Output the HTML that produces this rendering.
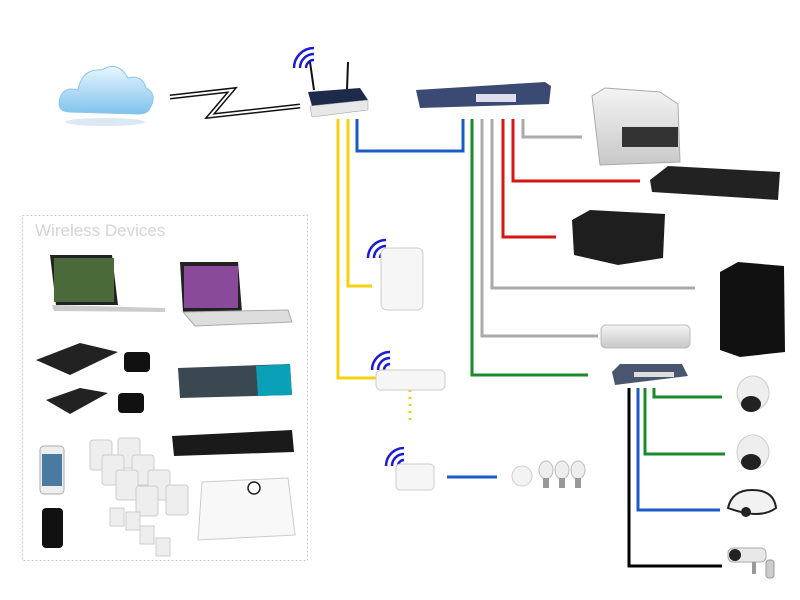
<!DOCTYPE html>
<html><head><style>body{margin:0;background:#fff}svg{display:block}</style></head><body>
<svg width="800" height="600" viewBox="0 0 800 600" xmlns="http://www.w3.org/2000/svg">
<defs>
<linearGradient id="cl" x1="0" y1="0" x2="0" y2="1"><stop offset="0" stop-color="#e8f6ff"/><stop offset="1" stop-color="#7fc2ec"/></linearGradient>
<linearGradient id="sv" x1="0" y1="0" x2="0" y2="1"><stop offset="0" stop-color="#f4f4f4"/><stop offset="1" stop-color="#c8c8c8"/></linearGradient>
</defs>
<ellipse cx="105" cy="122" rx="40" ry="4" fill="#dde9f2"/>
<g fill="url(#cl)" stroke="#8cc6ea" stroke-width="1">
<path d="M70 112 Q56 112 60 98 Q64 86 78 90 Q82 68 102 70 Q118 60 128 78 Q142 74 146 88 Q158 94 150 108 Q148 114 138 114 Z"/>
</g>
<polyline points="170,97 232,90 210,116 300,106" fill="none" stroke="#111" stroke-width="5"/>
<polyline points="170,97 232,90 210,116 300,106" fill="none" stroke="#fff" stroke-width="2"/>
<g fill="none" stroke="#1a1ad8" stroke-width="2.5">
<path d="M306 68 a8 8 0 0 1 8 -8"/><path d="M300 68 a14 14 0 0 1 14 -14"/><path d="M294 68 a20 20 0 0 1 20 -20"/>
<path d="M380 258 a6 6 0 0 1 6 -6"/><path d="M374 258 a12 12 0 0 1 12 -12"/><path d="M368 258 a18 18 0 0 1 18 -18"/>
<path d="M384 370 a6 6 0 0 1 6 -6"/><path d="M378 370 a12 12 0 0 1 12 -12"/><path d="M372 370 a18 18 0 0 1 18 -18"/>
<path d="M398 466 a6 6 0 0 1 6 -6"/><path d="M392 466 a12 12 0 0 1 12 -12"/><path d="M386 466 a18 18 0 0 1 18 -18"/>
</g>
<line x1="314" y1="90" x2="310" y2="62" stroke="#111" stroke-width="2"/>
<line x1="347" y1="90" x2="348" y2="62" stroke="#111" stroke-width="2"/>
<path d="M308 92 L360 88 L368 100 L312 106 Z" fill="#1e2a4a"/>
<path d="M310 106 L368 100 L368 110 L312 117 Z" fill="#e8e8e8" stroke="#999" stroke-width="0.5"/>
<path d="M416 90 L545 82 L551 86 L549 104 L420 108 Z" fill="#3a4a72"/>
<rect x="476" y="94" width="40" height="8" fill="#dde"/>
<g fill="none" stroke-width="3">
<polyline points="338,119 338,378 378,378" stroke="#f7d012"/>
<polyline points="348,119 348,286 372,286" stroke="#f7d012"/>
<polyline points="357,119 357,151 463,151 463,119" stroke="#1a5bc8"/>
<polyline points="472,119 472,375 588,375" stroke="#1a8a2a"/>
<polyline points="482,119 482,336 598,336" stroke="#aaa"/>
<polyline points="492,119 492,288 695,288" stroke="#aaa"/>
<polyline points="503,119 503,237 556,237" stroke="#d81414"/>
<polyline points="513,119 513,181 640,181" stroke="#d81414"/>
<polyline points="523,119 523,137 582,137" stroke="#aaa"/>
<polyline points="629,388 629,566 722,566" stroke="#000"/>
<polyline points="638,388 638,510 720,510" stroke="#1a5bc8"/>
<polyline points="645,388 645,454 725,454" stroke="#1a8a2a"/>
<polyline points="654,388 654,397 722,397" stroke="#1a8a2a"/>
<line x1="447" y1="477" x2="497" y2="477" stroke="#1a5bc8"/>
<line x1="410" y1="390" x2="410" y2="422" stroke="#f7d012" stroke-dasharray="2 5"/>
</g>
<path d="M592 96 L605 88 L660 92 L678 104 L680 162 L600 165 Z" fill="url(#sv)" stroke="#aaa"/>
<rect x="622" y="127" width="56" height="20" fill="#333"/>
<path d="M650 180 L668 166 L780 172 L778 200 L652 192 Z" fill="#222"/>
<path d="M572 220 L590 210 L665 214 L663 258 L618 265 L574 255 Z" fill="#1e1e1e"/>
<path d="M720 272 L738 262 L784 266 L785 352 L740 357 L720 350 Z" fill="#111"/>
<rect x="601" y="325" width="89" height="23" rx="5" fill="url(#sv)" stroke="#bbb"/>
<path d="M612 372 L620 364 L682 364 L688 376 L615 385 Z" fill="#4a5570"/>
<rect x="634" y="372" width="40" height="5" fill="#ddd"/>
<ellipse cx="753" cy="393" rx="16" ry="17" fill="#eee" stroke="#ccc"/><ellipse cx="751" cy="404" rx="10" ry="8" fill="#222"/>
<ellipse cx="753" cy="452" rx="16" ry="17" fill="#eee" stroke="#ccc"/><ellipse cx="751" cy="462" rx="10" ry="8" fill="#222"/>
<path d="M728 508 Q732 490 752 490 Q774 490 776 508 Q760 520 728 508 Z" fill="#f2f2f2" stroke="#222" stroke-width="2"/><circle cx="746" cy="512" r="5" fill="#222"/>
<rect x="728" y="548" width="38" height="14" rx="5" fill="#e8e8e8" stroke="#aaa"/><circle cx="735" cy="555" r="6" fill="#222"/>
<rect x="752" y="562" width="4" height="12" fill="#999"/><rect x="766" y="560" width="8" height="18" rx="3" fill="#ccc" stroke="#999"/>
<rect x="381" y="248" width="42" height="62" rx="6" fill="#f6f6f6" stroke="#ccc"/>
<rect x="376" y="370" width="69" height="20" rx="5" fill="#f6f6f6" stroke="#ccc"/>
<rect x="396" y="464" width="38" height="26" rx="4" fill="#f6f6f6" stroke="#ccc"/>
<circle cx="522" cy="476" r="10" fill="#f3f3f3" stroke="#ccc"/>
<g fill="#eee" stroke="#bbb"><ellipse cx="546" cy="470" rx="7" ry="9"/><ellipse cx="562" cy="470" rx="7" ry="9"/><ellipse cx="578" cy="470" rx="7" ry="9"/></g>
<g fill="#999"><rect x="543" y="478" width="6" height="10"/><rect x="559" y="478" width="6" height="10"/><rect x="575" y="478" width="6" height="10"/></g>
<rect x="22.5" y="215.5" width="285" height="345" fill="none" stroke="#c8c8c8" stroke-dasharray="2 2"/>
<text x="35" y="236" font-family="Liberation Sans, sans-serif" font-size="17" fill="#d4d4d4">Wireless Devices</text>
<path d="M50 255 L112 255 L118 305 L56 305 Z" fill="#222"/><rect x="54" y="258" width="60" height="44" fill="#4a6a3a"/>
<path d="M52 305 L165 308 L165 312 L54 311 Z" fill="#ccc"/>
<path d="M180 262 L238 262 L242 312 L183 312 Z" fill="#222"/><rect x="184" y="266" width="54" height="42" fill="#8a4a9a"/>
<path d="M183 312 L288 310 L292 322 L195 326 Z" fill="#ddd" stroke="#aaa"/>
<path d="M36 360 L80 343 L118 352 L70 375 Z" fill="#222"/>
<path d="M46 400 L80 388 L108 393 L70 414 Z" fill="#222"/>
<rect x="124" y="352" width="26" height="20" rx="4" fill="#111"/>
<rect x="118" y="393" width="26" height="20" rx="4" fill="#111"/>
<path d="M178 368 L290 364 L292 395 L180 398 Z" fill="#3a4852"/><path d="M256 366 L290 364 L292 395 L258 396 Z" fill="#0aa0b8"/>
<path d="M172 436 L292 430 L294 452 L174 456 Z" fill="#1a1a1a"/>
<rect x="40" y="446" width="24" height="48" rx="4" fill="#eee" stroke="#aaa"/><rect x="42" y="454" width="20" height="32" fill="#4a7aa0"/>
<rect x="42" y="508" width="21" height="40" rx="4" fill="#111"/>
<g fill="#eee" stroke="#ccc"><rect x="90" y="440" width="22" height="30" rx="3"/><rect x="118" y="438" width="22" height="30" rx="3"/><rect x="102" y="455" width="22" height="30" rx="3"/><rect x="132" y="455" width="22" height="30" rx="3"/><rect x="116" y="470" width="22" height="30" rx="3"/><rect x="148" y="470" width="22" height="30" rx="3"/><rect x="136" y="486" width="22" height="30" rx="3"/><rect x="166" y="485" width="22" height="30" rx="3"/><rect x="110" y="508" width="14" height="18"/><rect x="126" y="512" width="14" height="18"/><rect x="140" y="526" width="14" height="18"/><rect x="156" y="538" width="14" height="18"/></g>
<path d="M202 482 L288 478 L295 535 L198 540 Z" fill="#f8f8f8" stroke="#ccc"/><circle cx="254" cy="488" r="6" fill="#fff" stroke="#222" stroke-width="1.5"/>
</svg>
</body></html>
